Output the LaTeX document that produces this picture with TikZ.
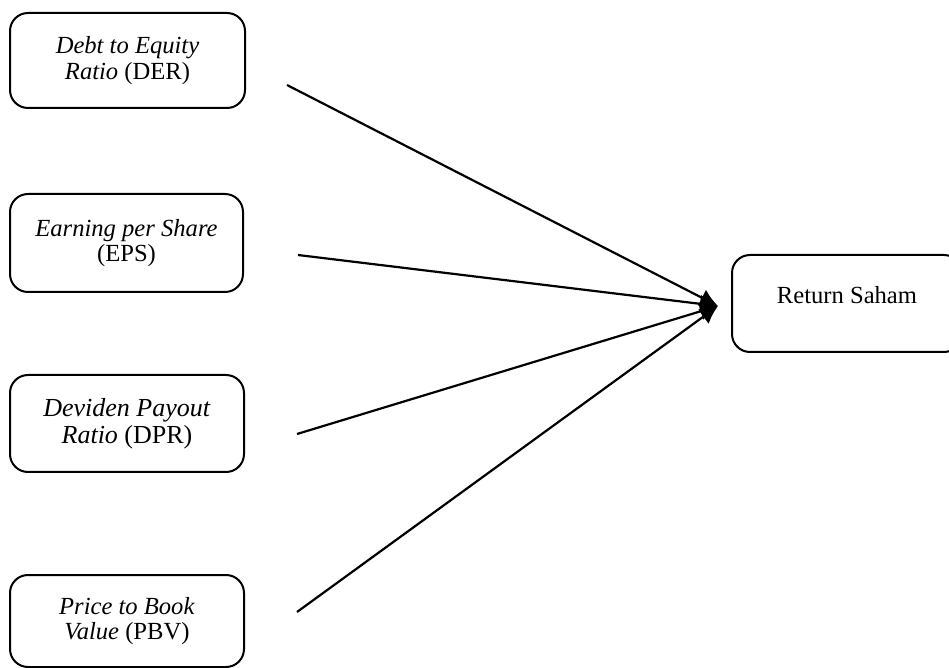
\documentclass[tikz,border=0pt]{standalone}
\usepackage{fontspec}
\setmainfont{Liberation Serif}
\usetikzlibrary{arrows.meta}

\tikzset{
  varbox/.style={rectangle,rounded corners=9pt,draw,line width=1pt,
    align=center,inner sep=2pt,font=\fontsize{12.3}{12.6}\selectfont},
  link/.style={line width=1.1pt,-{Latex[length=9pt,width=9pt]}}
}

\begin{document}
\begin{tikzpicture}[x=0.5pt,y=-0.5pt]
      \useasboundingbox (0,0) rectangle (949,668);
      \node[varbox,minimum width=117.5pt,minimum height=47.5pt] (der)
      at (127.5,60.5) {\textit{Debt to Equity}\\\textit{Ratio} (DER)};
      \node[varbox,minimum width=116.5pt,minimum height=49pt] (eps)
      at (126.5,243) {\textit{Earning per Share}\\(EPS)};
      \node[varbox,minimum width=117pt,minimum height=48.5pt,
      font=\fontsize{13}{13.3}\selectfont] (dpr)
      at (127,423.5) {\textit{Deviden Payout}\\\textit{Ratio} (DPR)};
      \node[varbox,minimum width=117pt,minimum height=46pt] (pbv)
      at (127,621) {\textit{Price to Book}\\\textit{Value} (PBV)};
      \node[varbox,minimum width=115pt,minimum height=48.5pt] (saham)
      at (847,303.5) {Return Saham\\[-4pt]\phantom{x}};
      % free ends of the arrows
      \coordinate (tip) at (718,306);
      \coordinate (fromder) at (287,85);
      \coordinate (fromeps) at (298,255);
      \coordinate (fromdpr) at (297,434);
      \coordinate (frompbv) at (297,612);
      \draw[link] (fromder) -- (tip);
      \draw[link] (fromeps) -- (tip);
      \draw[link] (fromdpr) -- (tip);
      \draw[link] (frompbv) -- (tip);
\end{tikzpicture}
\end{document}
